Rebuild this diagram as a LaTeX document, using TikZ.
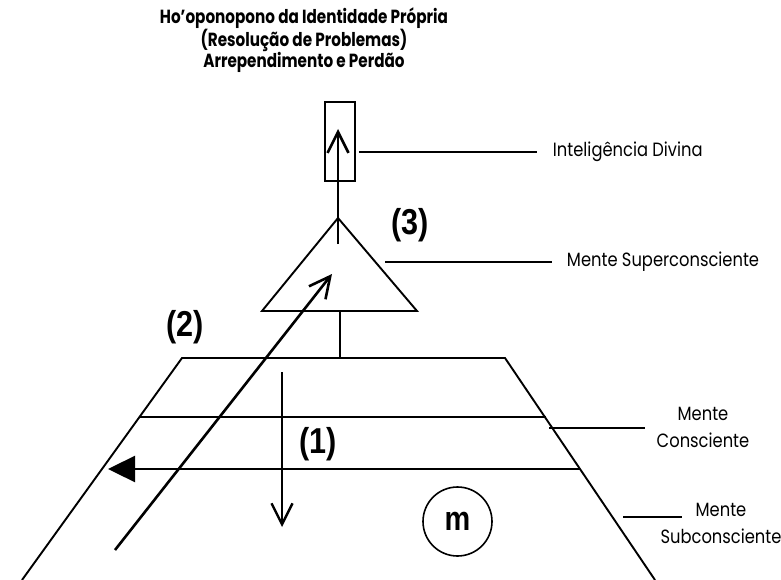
\documentclass[tikz,border=0pt]{standalone}
\usepackage{fontspec}
\setmainfont{Poppins}
\newfontfamily\lblfont[FakeStretch=0.85]{Poppins}
\newfontfamily\ttlfont[FakeStretch=0.8]{Poppins}
\newfontfamily\numfont[FakeStretch=0.85]{Liberation Sans}
\usetikzlibrary{arrows.meta}
\begin{document}
\begin{tikzpicture}[x=1pt,y=-1pt,line width=1.9pt,line cap=butt,
  lbl/.style={font=\lblfont\fontsize{19.2}{27}\selectfont, inner sep=0pt, align=center},
  ttl/.style={font=\ttlfont\fontsize{19}{20.5}\selectfont\bfseries, inner sep=0pt, align=center},
  num/.style={font=\numfont\fontsize{36}{36}\selectfont\bfseries, inner sep=0pt},
  veearrow/.style={line width=2.6pt,-{Straight Barb[length=21pt,width=21pt,line width=2.6pt]}},
  fillarrow/.style={line width=2.4pt,-{Triangle[length=27pt,width=26pt]}},
  ptr/.style={line width=2.2pt}]
\useasboundingbox (0,0) rectangle (781,580);

% title
\node[ttl] (title) at (304,40) {Ho’oponopono da Identidade Própria\\(Resolução de Problemas)\\Arrependimento e Perdão};

% geometry points
\coordinate (apex) at (338,218);
\coordinate (tbl) at (262,311);
\coordinate (tbr) at (417,311);
\coordinate (ttop) at (340,311);
\coordinate (ztl) at (182,358);
\coordinate (ztr) at (505,358);
\coordinate (zbl) at (22,580);
\coordinate (zbr) at (655,580);
\coordinate (zmid) at (340,358);

% rectangle (divine intelligence)
\node[draw,line width=1.8pt,minimum width=30pt,minimum height=79pt,inner sep=0pt] (box) at (340,141.5) {};
% triangle (superconscious)
\draw[line join=miter] (apex) -- (tbr) -- (tbl) -- cycle;
% trapezoid
\draw (zbl) -- (ztl) -- (ztr) -- (zbr);
\draw (ttop) -- (zmid);

% internal lines of trapezoid
\coordinate (l2a) at (139.5,417);
\coordinate (l2b) at (545.5,417);
\draw (l2a) -- (l2b);
\coordinate (l3b) at (580,469);
\coordinate (l3tip) at (108,469);
\draw[fillarrow] (l3b) -- (l3tip);

% upward arrow (3)
\coordinate (a3s) at (338,244);
\coordinate (a3e) at (338,129);
\draw[veearrow] (a3s) -- (a3e);

% diagonal arrow (2)
\coordinate (a2s) at (115,550);
\coordinate (a2e) at (332,274);
\draw[veearrow] (a2s) -- (a2e);

% downward arrow (1)
\coordinate (a1s) at (282,372);
\coordinate (a1e) at (282,527);
\draw[line width=2.2pt,-{Straight Barb[length=21pt,width=21pt,line width=2.4pt]}] (a1s) -- (a1e);

% labels
\node[num] (n3) at (410,225) {(3)};
\node[num] (n2) at (185,327) {(2)};
\node[num] (n1) at (318,444) {(1)};
\node[draw,circle,line width=1.6pt,minimum size=69pt,inner sep=0pt,font=\numfont\fontsize{34}{34}\selectfont\bfseries] (m) at (457.5,521.5) {m};

\node[lbl,anchor=west] (intel) at (552,152) {Inteligência Divina};
\node[lbl,anchor=west] (super) at (566,262) {Mente Superconsciente};
\node[lbl] (consc) at (703,427) {Mente\\Consciente};
\node[lbl] (subc) at (721,523) {Mente\\Subconsciente};

% pointer lines
\coordinate (pi) at (537,152);
\draw[ptr] (box.east |- pi) ++(3,0) -- (pi);
\coordinate (ps1) at (385,262);
\coordinate (ps2) at (552,262);
\draw[ptr] (ps1) -- (ps2);
\coordinate (pc1) at (549,428);
\coordinate (pc2) at (645,428);
\draw[ptr] (pc1) -- (pc2);
\coordinate (pu1) at (623,517);
\coordinate (pu2) at (682,517);
\draw[ptr] (pu1) -- (pu2);
\end{tikzpicture}
\end{document}
